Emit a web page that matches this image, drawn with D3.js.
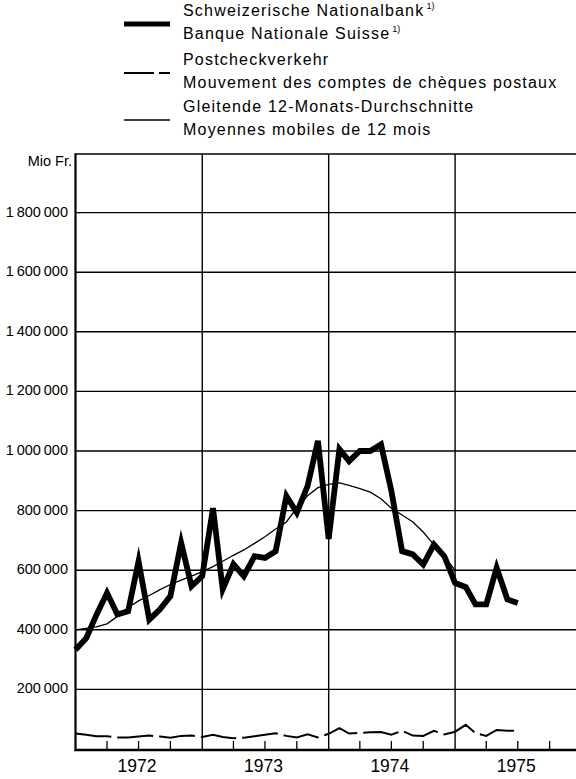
<!DOCTYPE html>
<html>
<head>
<meta charset="utf-8">
<script src="https://cdn.jsdelivr.net/npm/d3@7"></script>
<style>
  body { margin: 0; background: #fff; }
  svg { display: block; font-family: "Liberation Sans", Arial, sans-serif; }
</style>
</head>
<body>
<svg id="chart" width="576" height="779"></svg>
<script>
// monthly values in Mio Fr., Jan 1972 -> Jul 1975
var snb = [333000, 372000, 449000, 524000, 451000, 462000, 630000, 434000, 469000, 513000, 692000, 546000,
           580000, 808000, 536000, 620000, 580000, 647000, 641000, 664000, 849000, 793000, 882000, 1034000,
           705000, 1006000, 966000, 1000000, 1000000, 1022000, 866000, 664000, 653000, 619000, 686000, 647000,
           557000, 543000, 485000, 485000, 608000, 502000, 490000];

// Gleitende 12-Monats-Durchschnitte, Jan 1972 -> Jan 1975
var avg12 = [400000, 405000, 410000, 420000, 445000, 475000, 497000, 515000, 535000, 552000, 567000, 580000,
             595000, 612000, 630000, 650000, 668000, 690000, 712000, 738000, 762000, 809000, 850000, 877000,
             888000, 893000, 885000, 874000, 862000, 840000, 808000, 785000, 762000, 728000, 685000, 645000,
             600000];

// Postcheckverkehr
var postcheck = [52000, 48000, 43000, 43000, 39000, 39000, 42000, 45000, 42000, 38000, 44000, 45000,
                 40000, 48000, 40000, 36000, 38000, 43000, 48000, 53000, 44000, 39000, 49000, 39000,
                 51000, 70000, 52000, 54000, 56000, 57000, 48000, 61000, 45000, 44000, 61000, 49000,
                 58000, 81000, 53000, 44000, 64000, 61000, 61000];

var years = [1972, 1973, 1974, 1975];
var yTicks = [200000, 400000, 600000, 800000, 1000000, 1200000, 1400000, 1600000, 1800000];
var yTickLabels = ["200\u2009000", "400\u2009000", "600\u2009000", "800\u2009000", "1\u2009000\u2009000",
                   "1\u2009200\u2009000", "1\u2009400\u2009000", "1\u2009600\u2009000", "1\u2009800\u2009000"];
var yUnit = "Mio Fr.";

var legendItems = [
    {lines: ["Schweizerische Nationalbank", "Banque Nationale Suisse"], note: true, type: "snb"},
    {lines: ["Postcheckverkehr", "Mouvement des comptes de chèques postaux"], note: false, type: "post"},
    {lines: ["Gleitende 12-Monats-Durchschnitte", "Moyennes mobiles de 12 mois"], note: false, type: "avg"}
];

var svg = d3.select("#chart");

var plotLeft = 75.5, plotRight = 576, plotTop = 154, plotBottom = 750;

var x = d3.scaleTime()
    .domain([new Date(1972, 0, 1), new Date(1976, 0, 1)])
    .range([plotLeft, 581.5]);

var y = d3.scaleLinear()
    .domain([0, 2000000])
    .range([749, 153]);

function monthDate(i){
    return new Date(1972, i, 1);
}

// gridlines
svg.append("g").selectAll("line")
    .data(yTicks)
    .enter().append("line")
    .attr("x1", plotLeft).attr("x2", plotRight)
    .attr("y1", d => y(d)).attr("y2", d => y(d))
    .attr("stroke", "#000")
    .attr("stroke-width", 1.4);

svg.append("g").selectAll("line")
    .data(years.slice(1))
    .enter().append("line")
    .attr("x1", d => x(new Date(d, 0, 1))).attr("x2", d => x(new Date(d, 0, 1)))
    .attr("y1", plotTop).attr("y2", plotBottom)
    .attr("stroke", "#000")
    .attr("stroke-width", 1.4);

// frame
svg.append("line")
    .attr("x1", plotLeft).attr("x2", plotRight).attr("y1", plotTop).attr("y2", plotTop)
    .attr("stroke", "#000").attr("stroke-width", 1.6);
svg.append("line")
    .attr("x1", plotLeft).attr("x2", plotLeft).attr("y1", plotTop - 0.8).attr("y2", plotBottom + 1)
    .attr("stroke", "#000").attr("stroke-width", 2.2);
svg.append("line")
    .attr("x1", plotLeft - 1).attr("x2", plotRight).attr("y1", plotBottom).attr("y2", plotBottom)
    .attr("stroke", "#000").attr("stroke-width", 2.6);

// quarter ticks
var quarters = x.ticks(d3.timeMonth.every(3))
    .filter(d => d.getMonth() !== 0 && d < new Date(1976, 0, 1));
svg.append("g").selectAll("line")
    .data(quarters)
    .enter().append("line")
    .attr("x1", d => x(d)).attr("x2", d => x(d))
    .attr("y1", plotBottom).attr("y2", plotBottom - 9)
    .attr("stroke", "#000")
    .attr("stroke-width", 1.3);

// y labels
svg.append("g").selectAll("text")
    .data(yTicks)
    .enter().append("text")
    .attr("x", 68)
    .attr("y", d => y(d) - 1)
    .attr("dy", "0.35em")
    .attr("text-anchor", "end")
    .attr("font-size", "14.5px")
    .attr("fill", "#000")
    .text((d, i) => yTickLabels[i]);

svg.append("text")
    .attr("x", 72)
    .attr("y", 166)
    .attr("text-anchor", "end")
    .attr("font-size", "14.5px")
    .attr("fill", "#000")
    .text(yUnit);

// year labels
svg.append("g").selectAll("text")
    .data(years)
    .enter().append("text")
    .attr("x", d => x(new Date(d, 6, 1)) - 1.5)
    .attr("y", 772)
    .attr("text-anchor", "middle")
    .attr("font-size", "17.5px")
    .attr("fill", "#000")
    .text(d => d);

// series
var line = d3.line()
    .x((d, i) => x(monthDate(i)))
    .y(d => y(d));

svg.append("path")
    .datum(postcheck)
    .attr("d", line)
    .attr("fill", "none")
    .attr("stroke", "#000")
    .attr("stroke-width", 2)
    .attr("stroke-dasharray", "36,6");

svg.append("path")
    .datum(avg12)
    .attr("d", line)
    .attr("fill", "none")
    .attr("stroke", "#000")
    .attr("stroke-width", 1.3);

svg.append("path")
    .datum(snb)
    .attr("d", line)
    .attr("fill", "none")
    .attr("stroke", "#000")
    .attr("stroke-width", 5.8)
    .attr("stroke-linejoin", "miter")
    .attr("stroke-miterlimit", 6);

// legend
var legendTop = [16, 65, 112];
var legend = svg.append("g");
legendItems.forEach(function(item, k){
    var g = legend.append("g");
    var ly = legendTop[k] + 8;
    var seg = g.append("line")
        .attr("x1", 124).attr("x2", 170)
        .attr("y1", ly).attr("y2", ly)
        .attr("stroke", "#000");
    if(item.type === "snb"){
        seg.attr("stroke-width", 5);
    } else if(item.type === "post"){
        seg.attr("stroke-width", 2).attr("stroke-dasharray", "30,5");
    } else {
        seg.attr("stroke-width", 1.3);
    }
    item.lines.forEach(function(t, j){
        var txt = g.append("text")
            .attr("x", 183)
            .attr("y", legendTop[k] + j * 23)
            .attr("font-size", "16px")
            .attr("letter-spacing", "1.2px")
            .attr("fill", "#000")
            .text(t);
        if(item.note){
            txt.append("tspan")
                .attr("dx", 2)
                .attr("dy", -7)
                .attr("font-size", "9px")
                .attr("letter-spacing", "0px")
                .text("1)");
        }
    });
});
</script>
</body>
</html>
